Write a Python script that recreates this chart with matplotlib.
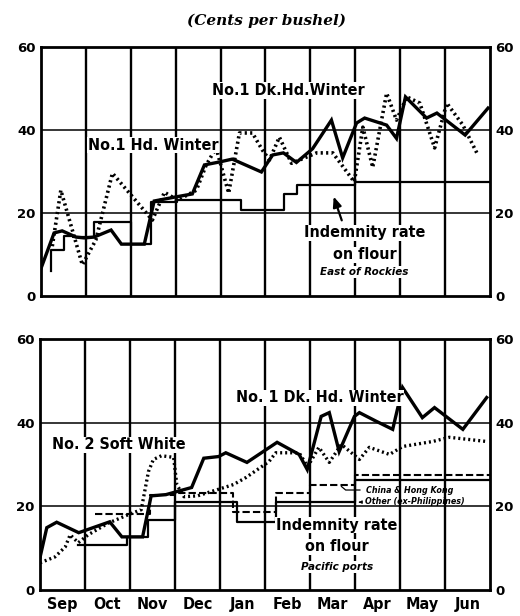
import matplotlib
matplotlib.use("Agg")
import matplotlib.pyplot as plt
from matplotlib import font_manager

# ---------------- data (x in months from start of September) ----------------
months = ["Sep", "Oct", "Nov", "Dec", "Jan", "Feb", "Mar", "Apr", "May", "Jun"]
yticks = [0, 20, 40, 60]

# Top panel: East of Rockies
east_dk_x = [0.0, 0.29, 0.47, 0.78, 0.96, 1.18, 1.56, 1.79, 2.3, 2.52, 3.01, 3.37, 3.64, 3.97, 4.26,
             4.91, 5.16, 5.4, 5.69, 6.05, 6.47, 6.72, 7.03, 7.21, 7.70, 7.92, 8.12, 8.59, 8.82, 9.45, 9.96]
east_dk_y = [6.7, 15.2, 15.7, 14.2, 14.0, 14.2, 15.9, 12.5, 12.5, 22.9, 23.9, 24.6, 31.6, 32.3, 33.0,
             29.9, 34.0, 34.5, 32.2, 35.5, 42.4, 33.3, 41.7, 42.9, 41.2, 38.0, 48.0, 42.9, 44.1, 38.8, 45.3]

east_hd_x = [0.25, 0.44, 0.92, 1.22, 1.59, 2.48, 2.75, 3.04, 3.46, 3.68, 3.9, 4.18, 4.42, 4.71, 4.93,
             5.09, 5.31, 5.58, 6.14, 6.5, 6.98, 7.17, 7.39, 7.7, 7.92, 8.15, 8.44, 8.77, 9.04, 9.4, 9.71]
east_hd_y = [12.0, 25.5, 7.5, 13.5, 29.6, 18.3, 25.0, 23.1, 25.5, 31.6, 35.7, 24.8, 39.3, 39.3, 35.2,
             32.8, 38.3, 32.0, 34.5, 34.5, 27.5, 40.7, 31.0, 48.9, 42.4, 48.0, 46.5, 35.7, 46.5, 41.2, 34.5]

east_rate_x = [0.22, 0.22, 0.5, 0.72, 1.18, 2.0, 2.45, 3.02, 4.46, 5.42, 5.7, 7.0, 10.0]
east_rate_y = [6.0, 11.0, 14.5, 14.2, 17.8, 12.5, 22.6, 23.1, 20.7, 24.5, 26.7, 27.5, 27.5]

# Bottom panel: Pacific ports
pac_dk_x = [0.0, 0.15, 0.37, 0.86, 1.55, 1.82, 2.28, 2.47, 2.8, 3.37, 3.64, 3.97, 4.13, 4.6, 5.27,
            5.76, 5.94, 6.25, 6.43, 6.65, 6.99, 7.1, 7.48, 7.84, 8.06, 8.5, 8.77, 9.4, 9.93]
pac_dk_y = [7.8, 14.9, 16.2, 13.7, 16.3, 12.7, 12.7, 22.5, 22.8, 24.5, 31.5, 31.9, 32.8, 30.5, 35.3,
            32.4, 28.8, 41.5, 42.4, 33.1, 41.5, 42.4, 40.3, 38.4, 48.4, 41.2, 43.6, 38.4, 46.0]

soft_x = [0.0, 0.33, 0.56, 0.67, 0.85, 1.07, 1.52, 1.96, 2.25, 2.41, 2.52, 2.7, 2.97, 3.04, 3.2, 3.5,
          4.3, 4.58, 5.09, 5.24, 5.76, 5.95, 6.2, 6.43, 6.7, 7.1, 7.32, 7.77, 8.06, 8.73, 9.1, 9.93]
soft_y = [6.5, 7.9, 10.3, 13.2, 11.3, 13.2, 16.0, 18.0, 19.2, 28.3, 31.2, 32.1, 31.7, 25.2, 22.3, 22.5,
          25.2, 26.9, 30.7, 32.8, 32.8, 29.5, 34.1, 30.5, 34.8, 31.2, 34.1, 32.4, 34.3, 35.5, 36.5, 35.5]

other_x = [0.85, 1.93, 2.41, 3.0, 4.38, 5.24, 7.0, 10.0]
other_y = [10.8, 12.7, 16.8, 21.0, 16.3, 21.0, 26.2, 26.2]

china_x = [1.23, 2.45, 3.0, 4.3, 5.24, 6.0, 7.0, 10.0]
china_y = [18.2, 22.8, 23.3, 18.7, 23.3, 25.2, 27.6, 27.6]

# ---------------- fonts ----------------
names = {f.name for f in font_manager.fontManager.ttflist}
cond_files = [f for f in font_manager.fontManager.ttflist
              if f.name == "DejaVu Sans" and "ondensed" in f.fname and "Bold" in f.fname
              and "Oblique" not in f.fname]
if "Liberation Sans Narrow" in names:
    LAB = dict(family="Liberation Sans Narrow", fontweight="bold", fontsize=12.5)
elif cond_files:
    LAB = dict(fontproperties=font_manager.FontProperties(fname=cond_files[0].fname, size=11.5))
else:
    LAB = dict(family="DejaVu Sans", fontweight="bold", fontsize=10)

# ---------------- figure ----------------
fig = plt.figure(figsize=(5.2, 6.16), dpi=100)
ax1 = fig.add_axes([0.079, 0.5195, 0.863, 0.404])
ax2 = fig.add_axes([0.077, 0.0422, 0.865, 0.4075])

white = dict(facecolor="white", edgecolor="none", pad=0.6)


def frame(ax):
    ax.set_xlim(0, 10)
    ax.set_ylim(0, 60)
    for s in ax.spines.values():
        s.set_linewidth(2.0)
    for m in range(1, 10):
        ax.axvline(m, color="black", lw=1.7, zorder=1)
    for v in (20, 40):
        ax.axhline(v, color="black", lw=1.1, zorder=1)
    ax.set_yticks(yticks)
    ax.tick_params(axis="y", length=0, pad=4, left=True, right=True,
                   labelleft=True, labelright=True, labelsize=9.5)
    for t in ax.yaxis.get_major_ticks():
        t.label1.set_fontweight("bold")
        t.label2.set_fontweight("bold")


frame(ax1)
frame(ax2)
ax1.set_xticks([])
ax2.set_xticks([m + 0.5 for m in range(10)])
ax2.set_xticklabels(months)
ax2.tick_params(axis="x", length=0, pad=5)
for lab in ax2.get_xticklabels():
    if "fontproperties" in LAB:
        lab.set_fontproperties(LAB["fontproperties"])
        lab.set_fontsize(11.5)
    else:
        lab.set_family(LAB["family"])
        lab.set_fontweight("bold")
        lab.set_fontsize(11)

# top panel lines
ax1.plot(east_rate_x, east_rate_y, drawstyle="steps-post", color="black", lw=1.6, zorder=3)
ax1.plot(east_hd_x, east_hd_y, color="black", lw=2.6, ls=(0, (0.6, 0.9)), zorder=4)
ax1.plot(east_dk_x, east_dk_y, color="black", lw=2.4, zorder=5, solid_joinstyle="miter")

# bottom panel lines
ax2.plot(other_x, other_y, drawstyle="steps-post", color="black", lw=1.6, zorder=3)
ax2.plot(china_x, china_y, drawstyle="steps-post", color="black", lw=1.5, ls=(0, (3.5, 1.5)), zorder=3)
ax2.plot(soft_x, soft_y, color="black", lw=2.4, ls=(0, (0.6, 0.9)), zorder=4)
ax2.plot(pac_dk_x, pac_dk_y, color="black", lw=2.4, zorder=5, solid_joinstyle="miter")

# labels
fig.text(0.512, 0.967, "(Cents per bushel)", ha="center", va="center", fontsize=11,
         fontweight="bold", style="italic", family="DejaVu Serif")


def lab(ax, x, y, s):
    ax.text(x, y, s, ha="center", va="center", bbox=white, zorder=6, **LAB)


lab(ax1, 5.51, 49.6, "No.1 Dk.Hd.Winter")
lab(ax1, 2.5, 36.4, "No.1 Hd. Winter")
lab(ax1, 7.21, 15.2, "Indemnity rate")
lab(ax1, 7.21, 9.9, "on flour")
ax1.text(7.21, 5.8, "East of Rockies", ha="center", va="center", fontsize=7.5,
         fontweight="bold", style="italic", bbox=white, zorder=6)
ax1.annotate("", xy=(6.5, 24.6), xytext=(6.72, 17.6),
             arrowprops=dict(arrowstyle="-|>,head_width=0.25,head_length=0.6", color="black", lw=1.6),
             zorder=6)

lab(ax2, 6.22, 45.9, "No. 1 Dk. Hd. Winter")
lab(ax2, 1.76, 34.7, "No. 2 Soft White")
lab(ax2, 6.6, 15.5, "Indemnity rate")
lab(ax2, 6.6, 10.3, "on flour")
ax2.text(6.6, 5.5, "Pacific ports", ha="center", va="center", fontsize=7.5,
         fontweight="bold", style="italic", bbox=white, zorder=6)
ax2.annotate("China & Hong Kong", xy=(6.65, 25.2), xytext=(7.24, 23.9), ha="left", va="center",
             fontsize=5.8, fontweight="bold", style="italic",
             arrowprops=dict(arrowstyle="-", color="black", lw=0.9,
                             connectionstyle="angle,angleA=0,angleB=-40,rad=0"), zorder=6)
ax2.annotate("Other (ex-Philippines)", xy=(7.02, 21.0), xytext=(7.22, 21.1), ha="left", va="center",
             fontsize=5.8, fontweight="bold", style="italic",
             arrowprops=dict(arrowstyle="-|>,head_width=0.15,head_length=0.3", color="black", lw=0.8),
             zorder=6)

fig.savefig("out.png", dpi=100)
